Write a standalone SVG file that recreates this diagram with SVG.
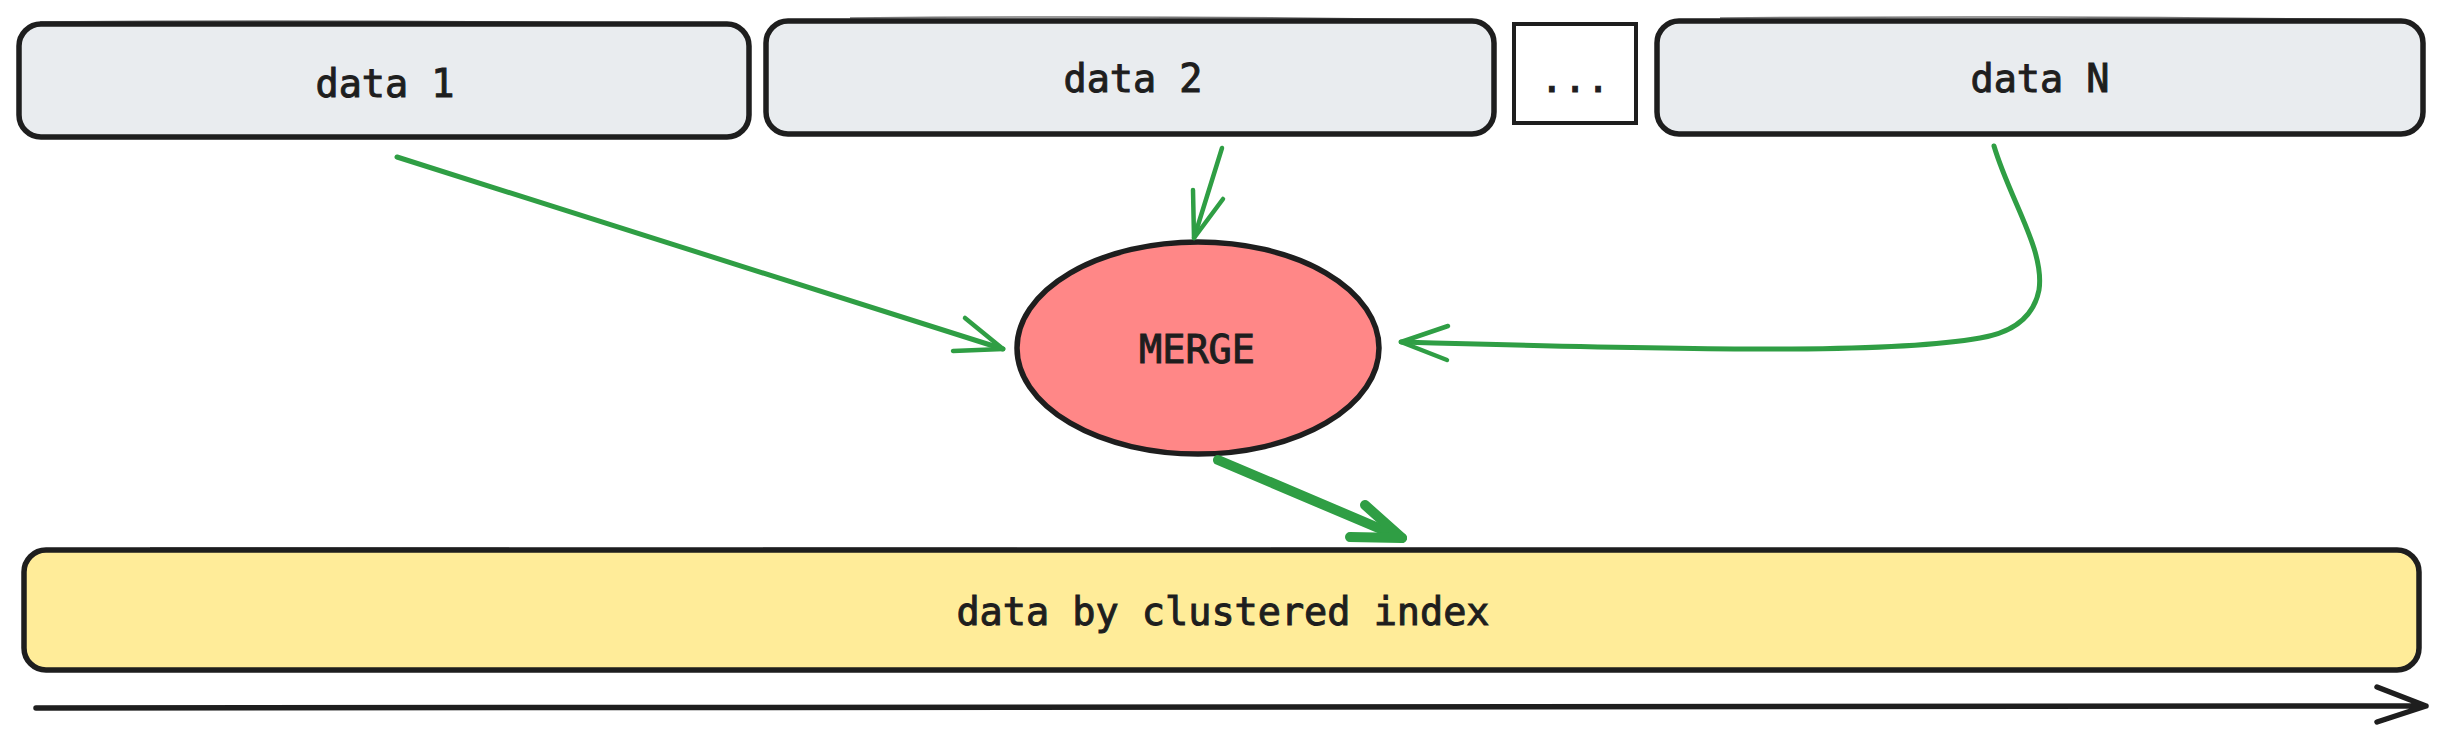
<svg xmlns="http://www.w3.org/2000/svg" width="2446" height="731" viewBox="0 0 2446 731">
<style>
.box{fill:#e9ecef;stroke:#1e1e1e;stroke-width:5.5;}
.sk{fill:none;stroke:#1e1e1e;stroke-width:1.5;opacity:0.6;}
.lbl{font-family:"DejaVu Sans Mono","Liberation Mono",monospace;font-size:38.5px;fill:#1e1e1e;stroke:#1e1e1e;stroke-width:1;text-anchor:middle;}
.g{fill:none;stroke:#2f9e44;stroke-linecap:round;stroke-linejoin:round;}
</style>
<rect width="2446" height="731" fill="#ffffff"/>
<g id="data1">
<rect class="box" x="19" y="24" width="730" height="113" rx="22"/>
<path class="sk" d="M40 22 Q380 19 730 25"/>
<text class="lbl" x="385" y="97">data 1</text>
</g>
<g id="data2">
<rect class="box" x="766" y="21" width="728" height="113" rx="22"/>
<path class="sk" d="M850 18 Q1150 15 1440 20"/>
<text class="lbl" x="1133" y="92">data 2</text>
</g>
<g id="dots">
<rect x="1514" y="24" width="122" height="99" fill="#ffffff" stroke="#1e1e1e" stroke-width="4"/>
<text class="lbl" x="1575" y="92">...</text>
</g>
<g id="dataN">
<rect class="box" x="1657" y="21" width="766" height="113" rx="22"/>
<path class="sk" d="M1720 18 Q2050 15 2380 20"/>
<text class="lbl" x="2040" y="92">data N</text>
</g>
<g id="merge">
<ellipse cx="1198" cy="348" rx="181" ry="106" fill="#ff8787" stroke="#1e1e1e" stroke-width="5.5"/>
<text class="lbl" x="1197" y="363">MERGE</text>
</g>
<g id="clustered">
<rect x="24" y="550" width="2395" height="120" rx="22" fill="#ffec99" stroke="#1e1e1e" stroke-width="5.5"/>
<path class="sk" d="M150 548 Q1200 545 2300 549"/>
<text class="lbl" x="1223" y="625">data by clustered index</text>
</g>
<g id="connectors">
<path class="g" stroke-width="5" d="M397 157 L1003 349"/>
<path class="g" stroke-width="4.5" d="M965 318 L1003 349 L953 351"/>
<path class="g" stroke-width="4.5" d="M1222 148 L1194 238"/>
<path class="g" stroke-width="4.5" d="M1193 190 L1194 238 L1223 199"/>
<path class="g" stroke-width="5" d="M1994 146 C2010 200 2045 250 2039 290 C2033 320 2010 333 1980 338 C1900 352 1750 352 1401 342"/>
<path class="g" stroke-width="4.5" d="M1448 326 L1401 342 L1447 360"/>
<path class="g" stroke-width="10" d="M1218 460 L1402 538"/>
<path class="g" stroke-width="10" d="M1365 505 L1402 538 L1350 537"/>
<path fill="none" stroke="#1e1e1e" stroke-width="5.5" stroke-linecap="round" stroke-linejoin="round" d="M36 708 L2426 706 M2377 687 L2426 706 L2377 722"/>
</g>
</svg>
